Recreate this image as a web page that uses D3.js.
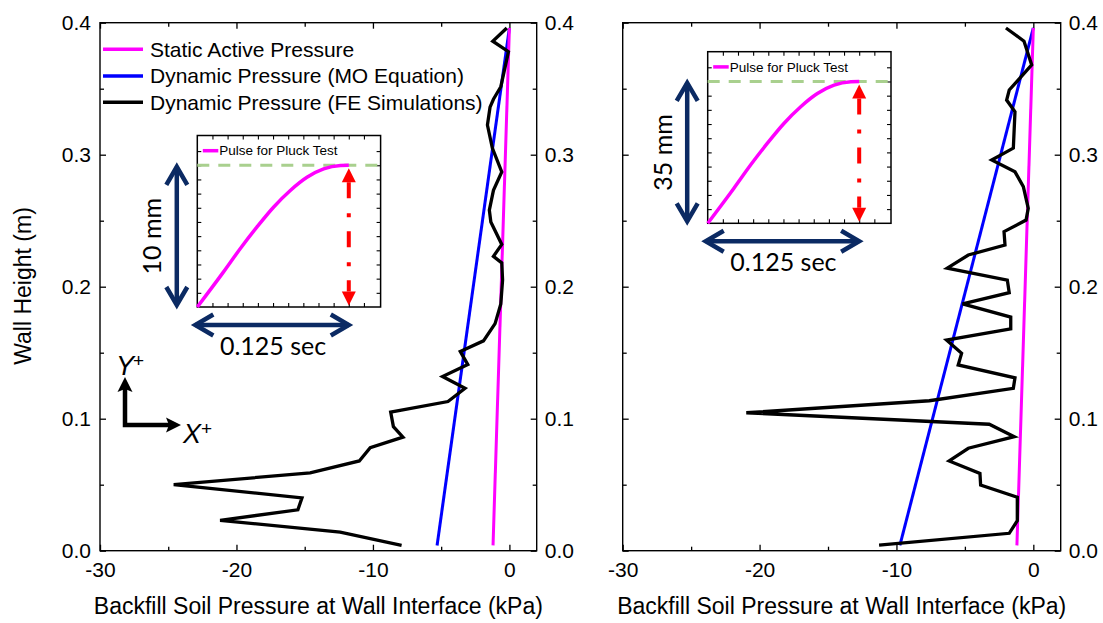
<!DOCTYPE html>
<html><head><meta charset="utf-8">
<script src="https://cdn.jsdelivr.net/npm/d3@7"></script>
<style>body{margin:0;background:#fff;} svg{display:block;}</style>
</head><body><svg id="c" width="1103" height="623"></svg>
<script>
// ---------- data ----------
const xTickValues = [-30, -20, -10, 0];
const yTickValues = [0, 0.1, 0.2, 0.3, 0.4];
const legendLabels = ["Static Active Pressure", "Dynamic Pressure (MO Equation)", "Dynamic Pressure (FE Simulations)"];
const xTitle = "Backfill Soil Pressure at Wall Interface (kPa)";
const yTitle = "Wall Height (m)";

const lineHeights = [0.004, 0.396];
const staticLeftP = [-1.2, 0];
const moLeftP = [-5.3, 0];
const staticRightP = [-1.2, 0];
const moRightP = [-9.75, 0];

const feLeftH = [0.004, 0.014, 0.023, 0.031, 0.040, 0.050, 0.059, 0.068, 0.078, 0.086, 0.094, 0.105, 0.113, 0.123, 0.132, 0.141, 0.151, 0.159, 0.172, 0.187, 0.205, 0.218, 0.223, 0.232, 0.249, 0.258, 0.273, 0.287, 0.305, 0.3225, 0.336, 0.342, 0.3515, 0.378, 0.386, 0.396];
const feLeftP = [-7.9, -12.4, -21.2, -15.5, -15.2, -24.6, -14.6, -11.0, -10.2, -7.8, -8.5, -8.7, -4.5, -3.25, -4.9, -3.05, -3.6, -1.9, -1.05, -0.63, -0.5, -0.56, -1.17, -0.56, -1.36, -1.47, -1.17, -0.56, -1.25, -1.61, -1.42, -1.17, -0.63, -0.07, -1.22, -0.19];

const feRightH = [0.0043, 0.0132, 0.0227, 0.0405, 0.0498, 0.0586, 0.068, 0.0776, 0.0864, 0.0958, 0.1045, 0.1136, 0.123, 0.131, 0.1407, 0.1495, 0.1596, 0.168, 0.177, 0.187, 0.1955, 0.205, 0.214, 0.224, 0.2316, 0.2417, 0.2505, 0.2594, 0.2758, 0.287, 0.296, 0.305, 0.3326, 0.3414, 0.349, 0.368, 0.386, 0.396];
const feRightP = [-11.27, -1.76, -1.17, -1.17, -3.85, -3.9, -6.15, -4.75, -1.39, -3.22, -20.97, -7.6, -1.46, -1.34, -5.49, -5.24, -6.34, -1.65, -1.65, -5.17, -1.76, -1.9, -6.29, -4.75, -2.07, -2.14, -0.53, -0.37, -0.73, -1.34, -3.04, -1.46, -1.34, -1.95, -1.76, -0.12, -0.68, -2.0];

// inset pulse (normalized time / normalized displacement)
const pulseT = [0, 0.172, 0.283, 0.393, 0.503, 0.614, 0.724, 0.834, 0.945, 1];
const pulseD = [0, 0.246, 0.411, 0.563, 0.704, 0.822, 0.915, 0.974, 0.998, 1];
const insetLegend = "Pulse for Pluck Test";
const durationLabel = "0.125 sec";
const amplitudeLabels = ["10 mm", "35 mm"];

// ---------- layout ----------
const svg = d3.select("#c");
const FONT = "'Liberation Sans', Arial, sans-serif";
const TOP = 22.7, BOT = 550.7;
const NAVY = "#0b2a63", MAG = "#ff00ff", BLUE = "#0000ff", RED = "#ff0000", GREEN = "#a9d08e";

function fmtX(d) { return String(d); }

function drawPanel(cfg) {
  const x = d3.scaleLinear().domain([-30, 2]).range([cfg.x0, cfg.x1]);
  const y = d3.scaleLinear().domain([0, 0.4]).range([BOT, TOP]);
  const g = svg.append("g");
  const minorX = d3.range(-25, 2, 10);
  const minorY = d3.range(0.05, 0.4, 0.1);

  function styleAxis(sel) {
    sel.select(".domain").remove();
    sel.attr("font-family", FONT).attr("font-size", 21);
    sel.selectAll("line").attr("stroke-width", 1.3);
  }
  g.append("g").attr("transform", `translate(0,${BOT})`)
    .call(d3.axisBottom(x).tickValues(xTickValues).tickSizeInner(-6).tickSizeOuter(0).tickPadding(11).tickFormat(fmtX)).call(styleAxis);
  g.append("g").attr("transform", `translate(0,${BOT})`)
    .call(d3.axisBottom(x).tickValues(minorX).tickSizeInner(-4).tickSizeOuter(0).tickFormat("")).call(styleAxis);
  g.append("g").attr("transform", `translate(0,${TOP})`)
    .call(d3.axisTop(x).tickValues(xTickValues).tickSizeInner(-6).tickSizeOuter(0).tickFormat("")).call(styleAxis);
  g.append("g").attr("transform", `translate(0,${TOP})`)
    .call(d3.axisTop(x).tickValues(minorX).tickSizeInner(-4).tickSizeOuter(0).tickFormat("")).call(styleAxis);
  g.append("g").attr("transform", `translate(${cfg.x0},0)`)
    .call(d3.axisLeft(y).tickValues(yTickValues).tickSizeInner(-6).tickSizeOuter(0).tickPadding(9)
      .tickFormat(cfg.leftLabels ? d3.format(".1f") : "")).call(styleAxis);
  g.append("g").attr("transform", `translate(${cfg.x0},0)`)
    .call(d3.axisLeft(y).tickValues(minorY).tickSizeInner(-4).tickSizeOuter(0).tickFormat("")).call(styleAxis);
  g.append("g").attr("transform", `translate(${cfg.x1},0)`)
    .call(d3.axisRight(y).tickValues(yTickValues).tickSizeInner(-6).tickSizeOuter(0).tickPadding(8)
      .tickFormat(d3.format(".1f"))).call(styleAxis);
  g.append("g").attr("transform", `translate(${cfg.x1},0)`)
    .call(d3.axisRight(y).tickValues(minorY).tickSizeInner(-4).tickSizeOuter(0).tickFormat("")).call(styleAxis);

  g.append("rect").attr("x", cfg.x0).attr("y", TOP).attr("width", cfg.x1 - cfg.x0).attr("height", BOT - TOP)
    .attr("fill", "none").attr("stroke", "#000").attr("stroke-width", 1.4);

  g.append("text").attr("x", (cfg.x0 + cfg.x1) / 2).attr("y", 614).attr("text-anchor", "middle")
    .attr("font-family", FONT).attr("font-size", 23).text(xTitle);

  const line = d3.line().x(d => x(d[0])).y(d => y(d[1]));
  const zip = (P, Hh) => P.map((p, i) => [p, Hh[i]]);
  g.append("path").attr("d", line(zip(cfg.mo, lineHeights))).attr("fill", "none").attr("stroke", BLUE).attr("stroke-width", 3);
  g.append("path").attr("d", line(zip(cfg.stat, lineHeights))).attr("fill", "none").attr("stroke", MAG).attr("stroke-width", 3);
  g.append("path").attr("d", line(zip(cfg.feP, cfg.feH))).attr("fill", "none").attr("stroke", "#000")
    .attr("stroke-width", 3.3).attr("stroke-linejoin", "miter");
  return g;
}

drawPanel({ x0: 100, x1: 536.7, leftLabels: true, stat: staticLeftP, mo: moLeftP, feP: feLeftP, feH: feLeftH });
drawPanel({ x0: 622.7, x1: 1060.7, leftLabels: false, stat: staticRightP, mo: moRightP, feP: feRightP, feH: feRightH });

svg.append("text").attr("transform", "translate(31,286) rotate(-90)").attr("text-anchor", "middle")
  .attr("font-family", FONT).attr("font-size", 23).text(yTitle);

const legColors = [MAG, BLUE, "#000"];
const legY = [49.3, 76, 102.3];
legendLabels.forEach((lab, i) => {
  svg.append("line").attr("x1", 103).attr("x2", 143).attr("y1", legY[i]).attr("y2", legY[i])
    .attr("stroke", legColors[i]).attr("stroke-width", 3.5);
  svg.append("text").attr("x", 150).attr("y", legY[i]).attr("dy", "0.35em")
    .attr("font-family", FONT).attr("font-size", 21).text(lab);
});

// ---------- insets ----------
function navyArrow(g, x1, y1, x2, y2) {
  const ang = Math.atan2(y2 - y1, x2 - x1);
  g.append("line").attr("x1", x1).attr("y1", y1).attr("x2", x2).attr("y2", y2)
    .attr("stroke", NAVY).attr("stroke-width", 4.5);
  [[x1, y1, ang + Math.PI], [x2, y2, ang]].forEach(([px, py, a]) => {
    const L = 18, Wd = 10.5;
    const bx = px - L * Math.cos(a), by = py - L * Math.sin(a);
    const nx = -Math.sin(a), ny = Math.cos(a);
    g.append("path").attr("d", `M${bx + nx * Wd},${by + ny * Wd}L${px},${py}L${bx - nx * Wd},${by - ny * Wd}`)
      .attr("fill", "none").attr("stroke", NAVY).attr("stroke-width", 4.5).attr("stroke-linejoin", "miter");
  });
}

function drawInset(cfg) {
  const L = cfg.left, T = cfg.top, W = cfg.w, H = cfg.h;
  const sx = d3.scaleLinear().domain([0, 1.21]).range([L, L + W]);
  const sy = d3.scaleLinear().domain([0, 1.21]).range([T + H, T]);
  const g = svg.append("g");
  g.append("rect").attr("x", L).attr("y", T).attr("width", W).attr("height", H)
    .attr("fill", "#fff").attr("stroke", "#000").attr("stroke-width", 1.5);
  const tv = d3.range(0.1, 1.2, 0.1);
  const st = s => { s.select(".domain").remove(); s.selectAll("line").attr("stroke-width", 1.1); };
  g.append("g").attr("transform", `translate(0,${T + H})`).call(d3.axisBottom(sx).tickValues(tv).tickSize(-4).tickFormat("")).call(st);
  g.append("g").attr("transform", `translate(0,${T})`).call(d3.axisTop(sx).tickValues(tv).tickSize(-4).tickFormat("")).call(st);
  g.append("g").attr("transform", `translate(${L},0)`).call(d3.axisLeft(sy).tickValues(tv).tickSize(-4).tickFormat("")).call(st);
  g.append("g").attr("transform", `translate(${L + W},0)`).call(d3.axisRight(sy).tickValues(tv).tickSize(-4).tickFormat("")).call(st);

  g.append("line").attr("x1", sx(0)).attr("x2", sx(1.21)).attr("y1", sy(1)).attr("y2", sy(1))
    .attr("stroke", GREEN).attr("stroke-width", 3).attr("stroke-dasharray", "12,9");
  const pl = d3.line().x((d, i) => sx(pulseT[i])).y((d, i) => sy(pulseD[i])).curve(d3.curveMonotoneX);
  g.append("path").attr("d", pl(pulseT)).attr("fill", "none").attr("stroke", MAG).attr("stroke-width", 3.5);
  g.append("line").attr("x1", L + 5.5).attr("x2", L + 21).attr("y1", T + 15.2).attr("y2", T + 15.2)
    .attr("stroke", MAG).attr("stroke-width", 3.5);
  g.append("text").attr("x", L + 22).attr("y", T + 15.2).attr("dy", "0.35em")
    .attr("font-family", FONT).attr("font-size", 13.5).text(insetLegend);

  const rx = sx(1), rTop = sy(1) + 3, rBot = sy(0) - 1.5;
  g.append("line").attr("x1", rx).attr("x2", rx).attr("y1", rTop + 14).attr("y2", rBot - 14)
    .attr("stroke", RED).attr("stroke-width", 4).attr("stroke-dasharray", "16,15,4,14");
  g.append("path").attr("d", `M${rx},${rTop}L${rx + 7},${rTop + 14}L${rx - 7},${rTop + 14}Z`).attr("fill", RED);
  g.append("path").attr("d", `M${rx},${rBot}L${rx + 7},${rBot - 14}L${rx - 7},${rBot - 14}Z`).attr("fill", RED);

  const vx = L - 20.5;
  navyArrow(g, vx, sy(1) + 1.5, vx, sy(0) - 2);
  const hy = T + H + 18;
  navyArrow(g, sx(0) - 2, hy, sx(1), hy);

  g.append("text").attr("transform", `translate(${L - 36},${(sy(1) + sy(0)) / 2}) rotate(-90)`)
    .attr("text-anchor", "middle").attr("font-family", "Lato, 'Open Sans', sans-serif").attr("font-size", 25)
    .text(cfg.amp);
  g.append("text").attr("x", (sx(0) + sx(1)) / 2).attr("y", T + H + 48).attr("text-anchor", "middle")
    .attr("font-family", "Lato, 'Open Sans', sans-serif").attr("font-size", 25).text(durationLabel);
}

drawInset({ left: 197.3, top: 135.5, w: 183.3, h: 171.5, amp: amplitudeLabels[0] });
drawInset({ left: 707.7, top: 51.7, w: 183.3, h: 171.6, amp: amplitudeLabels[1] });

// ---------- coordinate system glyph ----------
const cg = svg.append("g");
cg.append("path").attr("d", "M125,390L125,425L168,425").attr("fill", "none").attr("stroke", "#000")
  .attr("stroke-width", 4.5).attr("stroke-linejoin", "miter").attr("stroke-linecap", "square");
cg.append("path").attr("d", "M125,377L132.5,392L125,389L117.5,392Z").attr("fill", "#000");
cg.append("path").attr("d", "M181,425L166,432.5L169,425L166,417.5Z").attr("fill", "#000");
cg.append("text").attr("x", 116).attr("y", 375).attr("font-family", FONT).attr("font-style", "italic").attr("font-size", 27).text("Y");
cg.append("text").attr("x", 133).attr("y", 367).attr("font-family", FONT).attr("font-size", 19).text("+");
cg.append("text").attr("x", 183).attr("y", 443).attr("font-family", FONT).attr("font-style", "italic").attr("font-size", 27).text("X");
cg.append("text").attr("x", 201).attr("y", 435).attr("font-family", FONT).attr("font-size", 19).text("+");
</script></body></html>
